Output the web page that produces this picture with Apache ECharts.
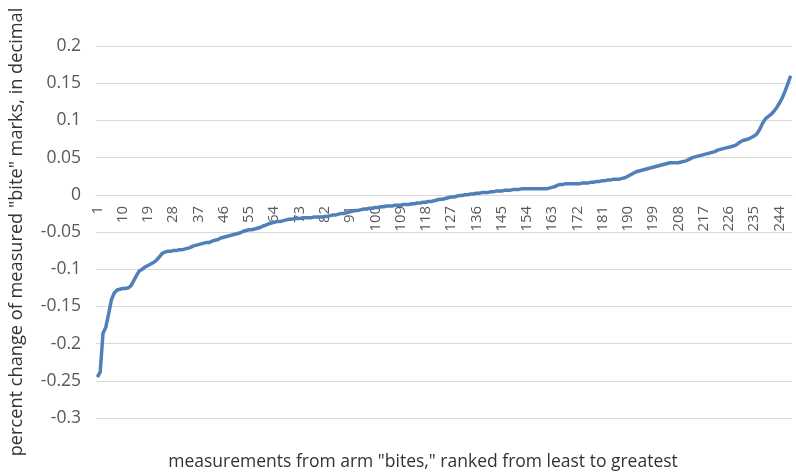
<!DOCTYPE html>
<html>
<head>
<meta charset="utf-8">
<script src="https://cdn.jsdelivr.net/npm/echarts@6/dist/echarts.min.js"></script>
<style>
html,body{margin:0;padding:0;background:#fff;}
#chart{width:796px;height:476px;}
</style>
</head>
<body>
<div id="chart"></div>
<script>
// ranks 1..248
var categories = Array.from({length: 248}, function(_, i){ return String(i + 1); });
var percentChange = [
 -0.245, -0.238, -0.186, -0.178, -0.160, -0.141, -0.132, -0.128, -0.127, -0.126,
 -0.126, -0.125, -0.122, -0.115, -0.108, -0.102, -0.100, -0.097, -0.095, -0.093,
 -0.091, -0.088, -0.084, -0.079, -0.077, -0.076, -0.076, -0.075, -0.075, -0.074,
 -0.074, -0.073, -0.072, -0.071, -0.069, -0.068, -0.067, -0.066, -0.065, -0.064,
 -0.064, -0.062, -0.061, -0.060, -0.058, -0.057, -0.056, -0.055, -0.054, -0.053,
 -0.052, -0.051, -0.049, -0.048, -0.047, -0.047, -0.046, -0.045, -0.044, -0.042,
 -0.041, -0.039, -0.038, -0.037, -0.036, -0.036, -0.035, -0.034, -0.033, -0.033,
 -0.032, -0.032, -0.032, -0.031, -0.031, -0.031, -0.031, -0.030, -0.030, -0.030,
 -0.030, -0.029, -0.029, -0.028, -0.027, -0.027, -0.026, -0.025, -0.025, -0.024,
 -0.023, -0.022, -0.021, -0.021, -0.020, -0.019, -0.019, -0.018, -0.018, -0.017,
 -0.017, -0.016, -0.016, -0.015, -0.015, -0.015, -0.014, -0.014, -0.014, -0.013,
 -0.013, -0.013, -0.012, -0.012, -0.011, -0.011, -0.010, -0.010, -0.009, -0.009,
 -0.008, -0.007, -0.006, -0.006, -0.005, -0.004, -0.003, -0.003, -0.002, -0.001,
 -0.001, 0.000, 0.000, 0.001, 0.001, 0.002, 0.002, 0.003, 0.003, 0.003,
 0.004, 0.004, 0.005, 0.005, 0.005, 0.006, 0.006, 0.006, 0.007, 0.007,
 0.007, 0.008, 0.008, 0.008, 0.008, 0.008, 0.008, 0.008, 0.008, 0.008,
 0.008, 0.009, 0.010, 0.011, 0.013, 0.014, 0.014, 0.015, 0.015, 0.015,
 0.015, 0.015, 0.015, 0.016, 0.016, 0.016, 0.017, 0.017, 0.018, 0.018,
 0.019, 0.019, 0.020, 0.020, 0.021, 0.021, 0.021, 0.022, 0.023, 0.025,
 0.027, 0.029, 0.031, 0.032, 0.033, 0.034, 0.035, 0.036, 0.037, 0.038,
 0.039, 0.040, 0.041, 0.042, 0.043, 0.043, 0.043, 0.043, 0.044, 0.045,
 0.046, 0.048, 0.050, 0.051, 0.052, 0.053, 0.054, 0.055, 0.056, 0.057,
 0.058, 0.060, 0.061, 0.062, 0.063, 0.064, 0.065, 0.066, 0.068, 0.071,
 0.073, 0.074, 0.075, 0.077, 0.079, 0.082, 0.088, 0.096, 0.102, 0.105,
 0.108, 0.112, 0.117, 0.123, 0.130, 0.139, 0.149, 0.160
];
var yTitle = 'percent change of measured "bite" marks, in decimal';
var xTitle = 'measurements from arm "bites," ranked from least to greatest';

var chart = echarts.init(document.getElementById('chart'), null, {renderer: 'canvas'});
var FONT = '"Open Sans", "Noto Sans", sans-serif';
var GRID = {left: 96, right: 4, top: 46, bottom: 58};
chart.setOption({
  animation: false,
  backgroundColor: '#ffffff',
  textStyle: {fontFamily: FONT},
  grid: {left: GRID.left, right: GRID.right, top: GRID.top, bottom: GRID.bottom, containLabel: false},
  graphic: [{
    type: 'text',
    x: 423, y: 462,
    style: {text: xTitle, align: 'center', verticalAlign: 'middle',
            fontSize: 17.5, fontFamily: FONT, fill: '#333333'}
  }],
  xAxis: {
    type: 'category',
    data: categories,
    boundaryGap: true,
    axisLine: {onZero: false, lineStyle: {color: '#d9d9d9', width: 1}},
    axisTick: {show: false},
    axisLabel: {rotate: 90, interval: 8, color: '#595959', fontSize: 15, margin: 11, fontFamily: FONT},
    splitLine: {show: false}
  },
  yAxis: {
    type: 'value',
    min: -0.3, max: 0.2, interval: 0.05,
    name: yTitle,
    nameLocation: 'middle',
    nameGap: 70,
    nameTextStyle: {color: '#333333', fontSize: 18.2, fontFamily: FONT},
    axisLine: {show: false},
    axisTick: {show: false},
    axisLabel: {color: '#595959', fontSize: 17.5, margin: 15, fontFamily: FONT,
      formatter: function(v){ return String(+v.toFixed(2)); }},
    splitLine: {lineStyle: {color: '#d9d9d9', width: 1}}
  },
  series: [{
    type: 'line',
    data: percentChange,
    symbol: 'none',
    lineStyle: {color: '#5080b9', width: 3.5},
    itemStyle: {color: '#5080b9'}
  }]
});
// place the category axis on the zero value of the y axis
var zeroY = chart.convertToPixel({yAxisIndex: 0}, 0);
var bottomY = 476 - GRID.bottom;
chart.setOption({xAxis: {offset: zeroY - bottomY}});
</script>
</body>
</html>
